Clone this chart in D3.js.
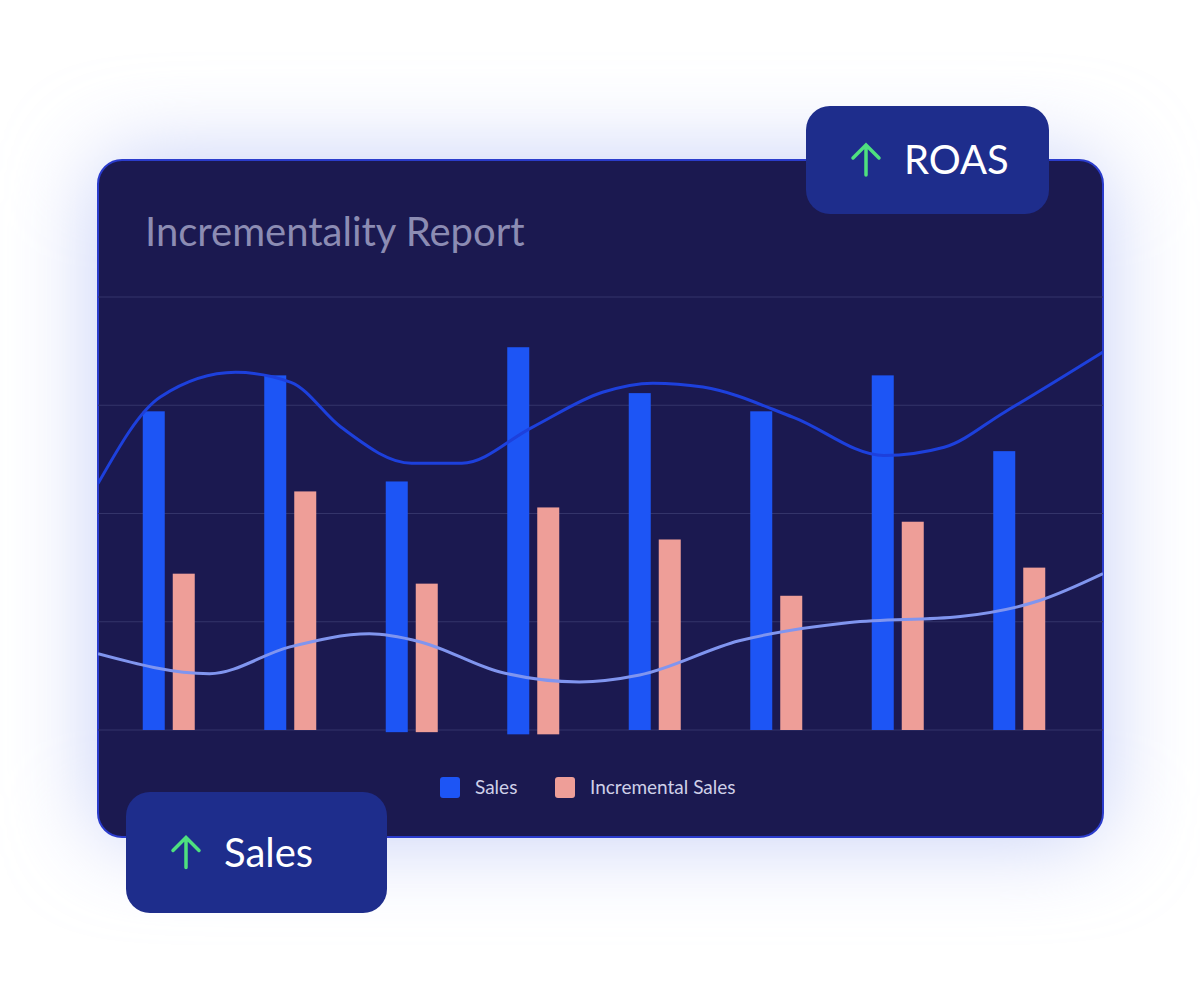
<!DOCTYPE html>
<html>
<head>
<meta charset="utf-8">
<script src="https://cdn.jsdelivr.net/npm/d3@7"></script>
<style>
  body { margin: 0; background: #ffffff; }
  svg { display: block; font-family: Lato, "Open Sans", sans-serif; }
</style>
</head>
<body>
<svg id="chart" width="1200" height="1000"></svg>
<script>
// chart data
var categories = ['1', '2', '3', '4', '5', '6', '7', '8'];
var salesValues = [73.6, 81.9, 57.4, 88.4, 77.8, 73.6, 81.9, 64.4];
var salesBase = [0, 0, -0.5, -1, 0, 0, 0, 0];
var incrementalValues = [36.1, 55.1, 33.8, 51.4, 44.0, 31.0, 48.1, 37.5];
var incrementalBase = [0, 0, -0.5, -1, 0, 0, 0, 0];
var gridTicks = [0, 25, 50, 75, 100];
// trend lines: [position along card 0..100, value]
var roasLine = [[0, 56.9], [6.2, 76.9], [13.7, 82.6], [19.2, 80.3], [24.2, 69.9], [31.2, 61.6], [36.2, 61.6], [43.2, 69.9], [50.2, 78.0], [55.2, 80.1], [60.2, 79.2], [69.2, 72.2], [78.2, 63.4], [84.2, 65.3], [90.2, 73.4], [100, 87.3]];
var trendLine = [[0, 17.6], [11.1, 13.0], [19.1, 19.2], [27.0, 22.2], [32.0, 20.4], [40.0, 13.4], [47.9, 11.1], [53.9, 12.7], [63.8, 20.6], [74.8, 24.8], [85.8, 26.2], [93.7, 29.9], [100, 36.1]];
var legendLabels = ['Sales', 'Incremental Sales'];

var svg = d3.select('#chart');
var card = { x: 98, y: 160, w: 1005, h: 677 };

var defs = svg.append('defs');
var glow = defs.append('filter').attr('id', 'glow')
    .attr('x', '-30%').attr('y', '-30%').attr('width', '160%').attr('height', '160%');
glow.append('feGaussianBlur').attr('stdDeviation', 45);
defs.append('clipPath').attr('id', 'cardClip')
    .append('rect')
    .attr('x', card.x).attr('y', card.y)
    .attr('width', card.w).attr('height', card.h)
    .attr('rx', 24);

// soft blue glow behind the card
svg.append('rect')
    .attr('x', card.x).attr('y', card.y)
    .attr('width', card.w).attr('height', card.h)
    .attr('rx', 30)
    .attr('fill', '#c3cdf7')
    .attr('filter', 'url(#glow)');

svg.append('rect')
    .attr('x', card.x).attr('y', card.y)
    .attr('width', card.w).attr('height', card.h)
    .attr('rx', 24)
    .attr('fill', '#1b1950')
    .attr('stroke', '#2b3ccc')
    .attr('stroke-width', 2);

svg.append('text')
    .attr('x', 145).attr('y', 246)
    .attr('font-size', 40)
    .attr('fill', '#8c8cb3')
    .text('Incrementality Report');

var y = d3.scaleLinear().domain([0, 100]).range([730, 297]);
var xLine = d3.scaleLinear().domain([0, 100]).range([card.x, card.x + card.w]);
var x = d3.scaleBand().domain(categories).range([117, 1089]).paddingInner(0);

var plot = svg.append('g').attr('clip-path', 'url(#cardClip)');

plot.selectAll('.grid')
    .data(gridTicks)
    .enter()
    .append('line')
    .attr('class', 'grid')
    .attr('x1', card.x).attr('x2', card.x + card.w)
    .attr('y1', function (d) { return y(d); })
    .attr('y2', function (d) { return y(d); })
    .attr('stroke', '#34346a')
    .attr('stroke-width', 1);

var lineGen = d3.line()
    .x(function (d) { return xLine(d[0]); })
    .y(function (d) { return y(d[1]); })
    .curve(d3.curveMonotoneX);

var barW = 22;
plot.selectAll('.sales')
    .data(salesValues)
    .enter()
    .append('rect')
    .attr('class', 'sales')
    .attr('x', function (d, i) { return x(categories[i]) + x.bandwidth() / 2 - 35; })
    .attr('y', function (d) { return y(d); })
    .attr('width', barW)
    .attr('height', function (d, i) { return y(salesBase[i]) - y(d); })
    .attr('fill', '#1d55f5');

plot.selectAll('.incr')
    .data(incrementalValues)
    .enter()
    .append('rect')
    .attr('class', 'incr')
    .attr('x', function (d, i) { return x(categories[i]) + x.bandwidth() / 2 - 5; })
    .attr('y', function (d) { return y(d); })
    .attr('width', barW)
    .attr('height', function (d, i) { return y(incrementalBase[i]) - y(d); })
    .attr('fill', '#ee9e98');

plot.append('path')
    .datum(trendLine)
    .attr('d', lineGen)
    .attr('fill', 'none')
    .attr('stroke', '#8095ef')
    .attr('stroke-width', 3);

plot.append('path')
    .datum(roasLine)
    .attr('d', lineGen)
    .attr('fill', 'none')
    .attr('stroke', '#1d40dc')
    .attr('stroke-width', 3);

// legend
var legend = svg.append('g').attr('transform', 'translate(440,777)');
var legendX = [0, 115];
var legendColors = ['#1d55f5', '#ee9e98'];
legend.selectAll('rect')
    .data(legendLabels)
    .enter()
    .append('rect')
    .attr('x', function (d, i) { return legendX[i]; })
    .attr('width', 20).attr('height', 21).attr('rx', 3)
    .attr('fill', function (d, i) { return legendColors[i]; });
legend.selectAll('text')
    .data(legendLabels)
    .enter()
    .append('text')
    .attr('x', function (d, i) { return legendX[i] + 35; })
    .attr('y', 17)
    .attr('font-size', 19)
    .attr('fill', '#cfd0e8')
    .text(function (d) { return d; });

// badges
function badge(bx, by, bw, bh, label) {
    var g = svg.append('g').attr('transform', 'translate(' + bx + ',' + by + ')');
    g.append('rect').attr('width', bw).attr('height', bh).attr('rx', 24).attr('fill', '#1e2d8c');
    var ax = 60, ay = bh / 2;
    g.append('path')
        .attr('d', 'M' + ax + ',' + (ay + 15) + 'V' + (ay - 15) + 'M' + (ax - 13) + ',' + (ay - 2) + 'L' + ax + ',' + (ay - 15) + 'L' + (ax + 13) + ',' + (ay - 2))
        .attr('fill', 'none')
        .attr('stroke', '#4ee07f')
        .attr('stroke-width', 3.5)
        .attr('stroke-linecap', 'round');
    g.append('text')
        .attr('x', 98).attr('y', ay + 14)
        .attr('font-size', 40)
        .attr('fill', '#ffffff')
        .text(label);
}
badge(806, 106, 243, 108, 'ROAS');
badge(126, 792, 261, 121, 'Sales');
</script>
</body>
</html>
